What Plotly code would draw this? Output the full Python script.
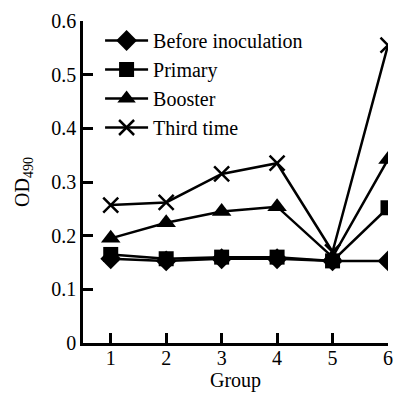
import plotly.graph_objects as go

groups = [1, 2, 3, 4, 5, 6]
before = [0.157, 0.153, 0.157, 0.157, 0.153, 0.153]
primary = [0.165, 0.157, 0.160, 0.160, 0.153, 0.252]
booster = [0.195, 0.224, 0.245, 0.254, 0.160, 0.342]
third = [0.257, 0.262, 0.315, 0.335, 0.170, 0.555]

series = [
    ("Before inoculation", before, "diamond", 16),
    ("Primary", primary, "square", 15),
    ("Booster", booster, "triangle-up", 17),
    ("Third time", third, "x-thin-open", 15),
]

FF = "Liberation Serif"
fnt = dict(family=FF, size=20, color="black")
fig = go.Figure()
for name, vals, sym, sz in series:
    fig.add_trace(go.Scatter(
        x=groups, y=vals, name=name, mode="lines+markers",
        line=dict(color="black", width=2.5),
        marker=dict(symbol=sym, size=sz, color="black",
                    line=dict(color="black", width=2.5 if "x" in sym else 0)),
    ))

fig.update_layout(
    width=398, height=394,
    margin=dict(l=83, r=10, t=21, b=51),
    paper_bgcolor="white", plot_bgcolor="white",
    font=fnt,
    showlegend=True,
    legend=dict(x=0.056, y=1.0, xanchor="left", yanchor="top",
                bgcolor="rgba(0,0,0,0)", font=fnt,
                itemwidth=43, tracegroupgap=0),
    xaxis=dict(range=[0.5, 6], tickvals=groups, ticks="inside", ticklen=10,
               tickwidth=2.5, tickcolor="black", showline=True, linewidth=2.5,
               linecolor="black", showgrid=False, zeroline=False,
               tickfont=fnt, automargin=False, ticklabelstandoff=-5,
               title=dict(text="Group", standoff=0, font=fnt)),
    yaxis=dict(range=[0, 0.6], tickvals=[0, 0.1, 0.2, 0.3, 0.4, 0.5, 0.6],
               ticktext=["0", "0.1", "0.2", "0.3", "0.4", "0.5", "0.6"],
               ticks="inside", ticklen=10, tickwidth=2.5, tickcolor="black",
               showline=True, linewidth=2.5, linecolor="black",
               showgrid=False, zeroline=False, tickfont=fnt, automargin=False,
               title=dict(text="OD<sub>490</sub>", standoff=17, font=fnt)),
)

fig.write_html("out.html")
